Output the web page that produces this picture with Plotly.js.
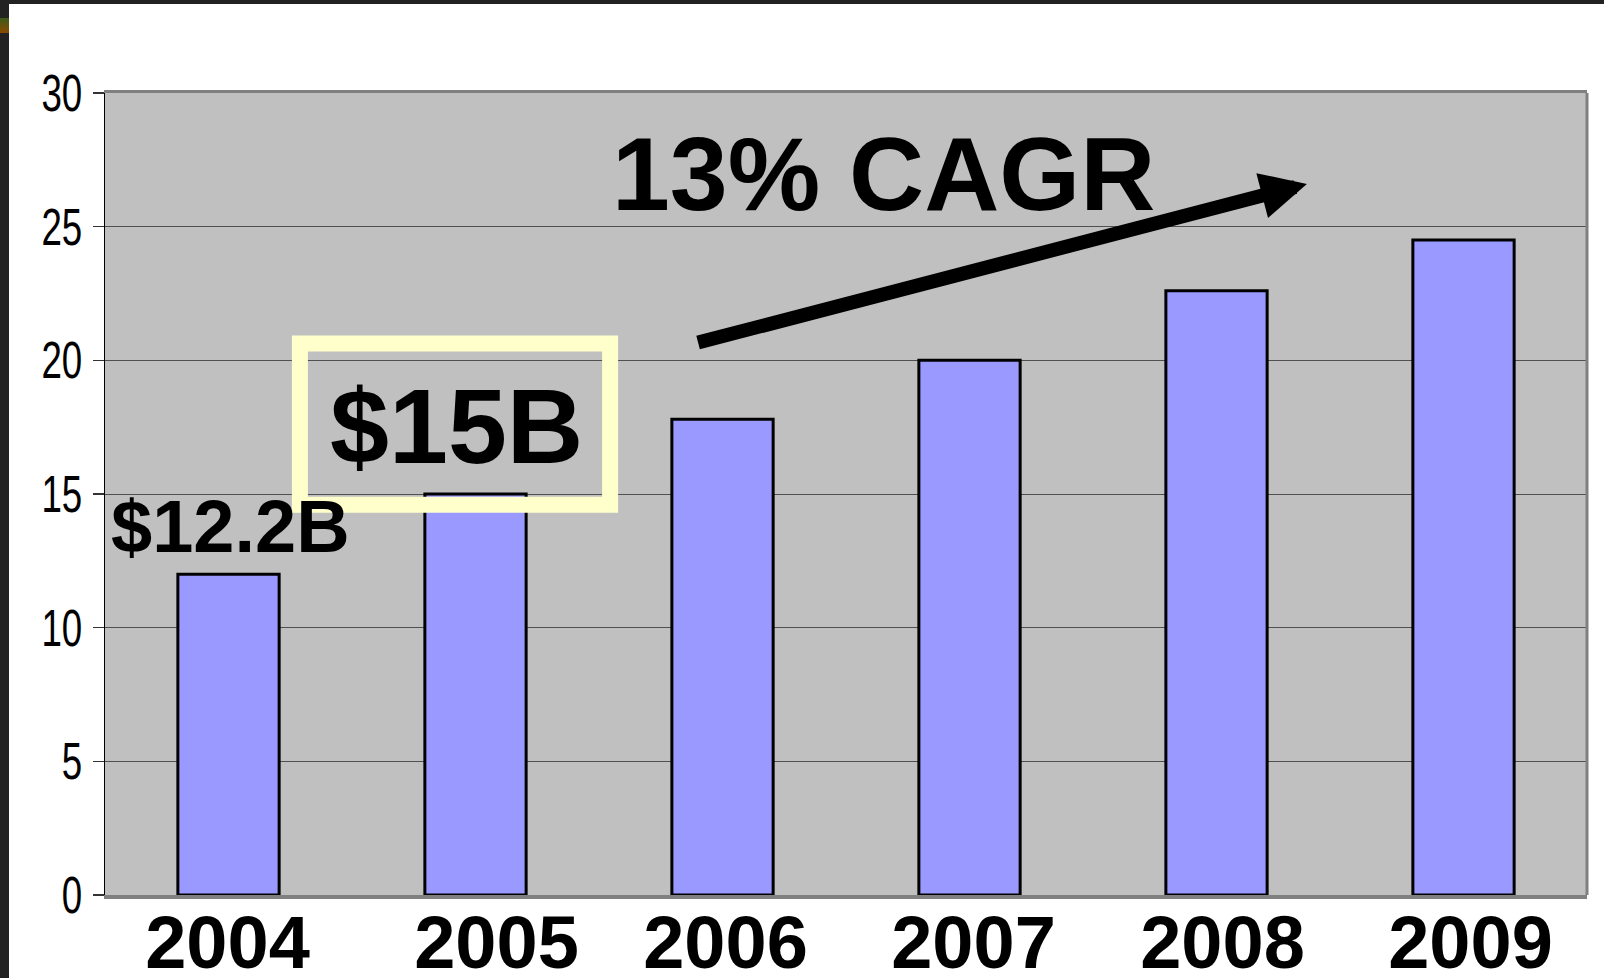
<!DOCTYPE html>
<html>
<head>
<meta charset="utf-8">
<script src="https://cdn.plot.ly/plotly-3.0.1.min.js"></script>
<style>
  html, body { margin: 0; padding: 0; }
  body { width: 1604px; height: 978px; background: #222222; position: relative; overflow: hidden; }
  #chart { position: absolute; left: 9px; top: 4px; width: 1595px; height: 974px; background: #ffffff; }
  #spot { position: absolute; left: 0; top: 18px; width: 9px; height: 15px; background: linear-gradient(#3d5a1a, #8a4a00); }
</style>
</head>
<body>
<div id="spot"></div>
<div id="chart"></div>
<script>
// Data
const years = ['2004', '2005', '2006', '2007', '2008', '2009'];
const revenue = [12.0, 15.0, 17.8, 20.0, 22.6, 24.5];
const yTicks = [0, 5, 10, 15, 20, 25, 30];
const labelStart = '$12.2B';
const labelHighlight = '$15B';
const labelGrowth = '13% CAGR';

// style: small horizontal nudges (px) of the year labels, as in the original slide
const yearLabelNudge = [-1, 21, 3, 4, 6, 7];

const trace = {
  type: 'bar',
  x: years,
  y: revenue,
  marker: { color: '#9999FF', line: { color: '#000000', width: 3 } },
  hoverinfo: 'x+y'
};

const layout = {
  width: 1595,
  height: 974,
  margin: { l: 96, r: 17, t: 89, b: 83 },
  paper_bgcolor: '#ffffff',
  plot_bgcolor: '#C0C0C0',
  showlegend: false,
  bargap: 0.59,
  xaxis: {
    type: 'category',
    range: [-0.5, 5.5],
    showgrid: false,
    showline: true,
    linecolor: '#808080',
    linewidth: 3.5,
    mirror: true,
    ticks: '',
    ticklabelstandoff: -19,
    tickfont: { family: 'Liberation Sans, Arial, sans-serif', size: 74, color: '#000000', weight: 'bold' },
    fixedrange: true
  },
  yaxis: {
    range: [0, 30],
    tickvals: yTicks,
    ticktext: yTicks.map(String),
    showgrid: true,
    gridcolor: '#505050',
    gridwidth: 1,
    zeroline: false,
    showline: true,
    linecolor: '#000000',
    linewidth: 1.5,
    ticks: 'outside',
    ticklen: 11,
    tickwidth: 1.5,
    tickcolor: '#333333',
    tickfont: { family: 'Liberation Sans, Arial, sans-serif', size: 51, color: '#000000' },
    fixedrange: true
  },
  shapes: [
    { type: 'line', xref: 'paper', yref: 'paper', x0: 1, x1: 1, y0: 0, y1: 1,
      line: { color: '#808080', width: 3 }, layer: 'above' },
    { type: 'rect', xref: 'x', yref: 'y', x0: 0.289, x1: 1.545, y0: 14.6, y1: 20.63,
      line: { color: '#FFFFCC', width: 16 }, fillcolor: 'rgba(0,0,0,0)', layer: 'above' }
  ],
  annotations: [
    { xref: 'x', yref: 'y', x: 0.01, y: 13.78, text: labelStart, showarrow: false,
      xanchor: 'center', yanchor: 'middle',
      font: { family: 'Liberation Sans, Arial, sans-serif', size: 74, color: '#000000', weight: 'bold' } },
    { xref: 'x', yref: 'y', x: 0.925, y: 17.55, text: labelHighlight, showarrow: false,
      xanchor: 'center', yanchor: 'middle',
      font: { family: 'Liberation Sans, Arial, sans-serif', size: 106, color: '#000000', weight: 'bold' } },
    { xref: 'x', yref: 'y', x: 2.65, y: 26.96, text: labelGrowth, showarrow: false,
      xanchor: 'center', yanchor: 'middle',
      font: { family: 'Liberation Sans, Arial, sans-serif', size: 104, color: '#000000', weight: 'bold' } },
    { xref: 'x', yref: 'y', axref: 'x', ayref: 'y', x: 4.366, y: 26.6, ax: 1.895, ay: 20.65,
      text: '', showarrow: true, arrowhead: 2, arrowwidth: 14, arrowsize: 0.66, arrowcolor: '#000000', standoff: 0 }
  ]
};

Plotly.newPlot('chart', [trace], layout, { displayModeBar: false, staticPlot: true }).then(function (gd) {
  // condense the y tick labels horizontally (narrow typeface look), keeping right edge fixed
  document.querySelectorAll('#chart .ytick text').forEach(function (t) {
    const x = parseFloat(t.getAttribute('x')) || 0;
    const tr = t.getAttribute('transform') || '';
    t.setAttribute('transform', tr + ' translate(' + x + ',0) scale(0.72,1) translate(' + (-x) + ',0)');
  });
  document.querySelectorAll('#chart .xtick text').forEach(function (t, i) {
    const tr = t.getAttribute('transform') || '';
    t.setAttribute('transform', tr + ' translate(' + (yearLabelNudge[i] || 0) + ',0)');
  });
});
</script>
</body>
</html>
